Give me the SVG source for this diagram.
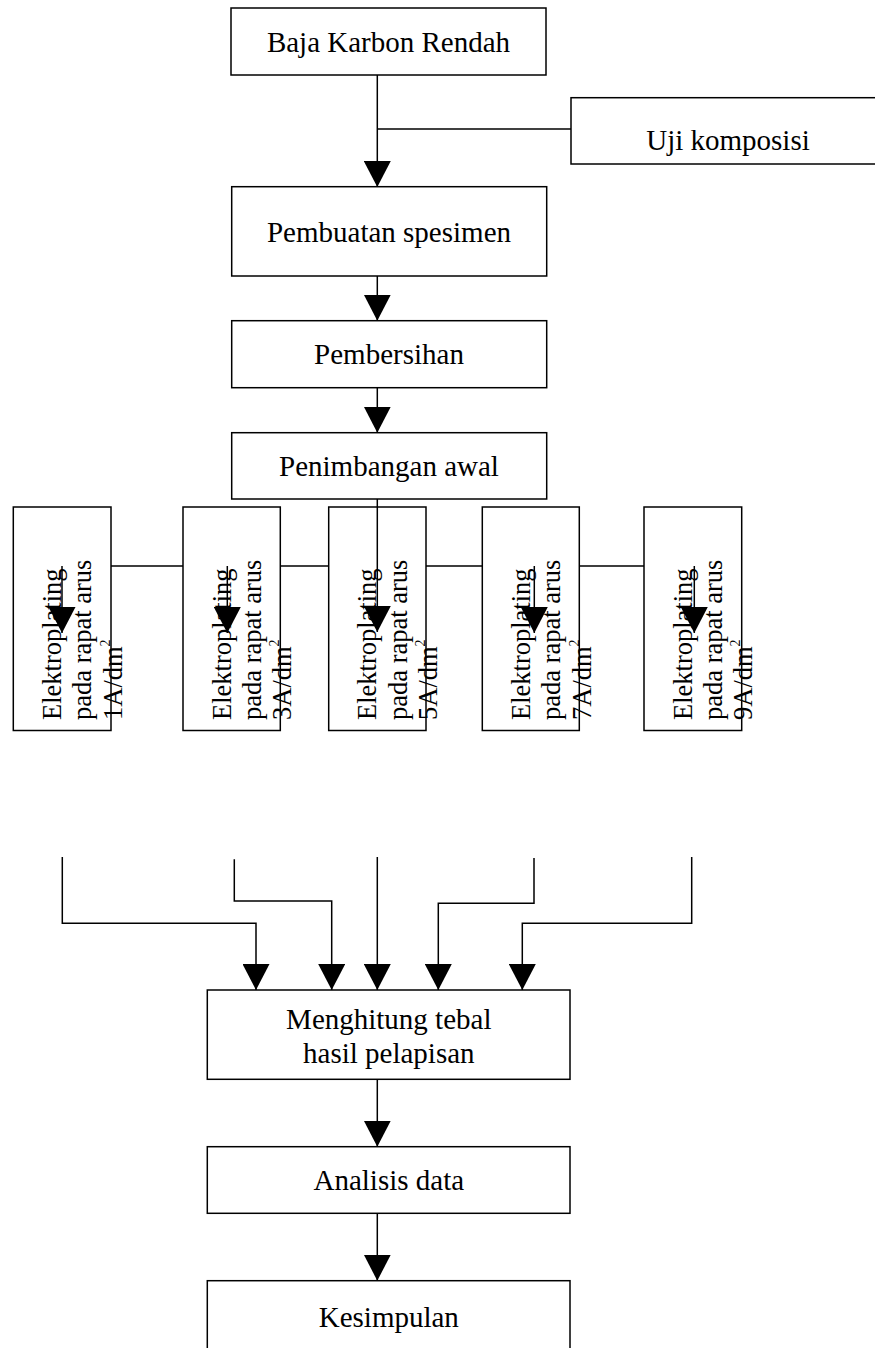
<svg xmlns="http://www.w3.org/2000/svg" width="875" height="1348" viewBox="0 0 875 1348">
<style>
.box{fill:#fff;stroke:#000;stroke-width:1.5}
.t{font-family:"Liberation Serif","Times New Roman",serif;font-size:29px;fill:#000;text-anchor:middle}
.e{font-family:"Liberation Serif","Times New Roman",serif;font-size:26.5px;fill:#000}
.sup{font-size:14px}
.c{fill:none;stroke:#000;stroke-width:1.5}
.a{marker-end:url(#ah)}
</style>
<defs>
<marker id="ah" viewBox="0 0 26 27" refX="26" refY="13.5" markerWidth="26" markerHeight="27" markerUnits="userSpaceOnUse" orient="auto">
<path d="M0,0 L26,13.5 L0,27 Z" fill="#000"/>
</marker>
</defs>
<rect width="875" height="1348" fill="#fff"/>
<g id="baja"><rect class="box" x="231" y="8" width="315" height="67"/><text class="t" x="388.5" y="52">Baja Karbon Rendah</text></g>
<g id="uji"><rect class="box" x="571" y="97.7" width="314" height="66.3"/><text class="t" x="728" y="150">Uji komposisi</text></g>
<g id="pembuatan"><rect class="box" x="231.7" y="186.7" width="315" height="89.3"/><text class="t" x="389" y="241.7">Pembuatan spesimen</text></g>
<g id="pembersihan"><rect class="box" x="231.7" y="320.7" width="315" height="67"/><text class="t" x="389" y="364">Pembersihan</text></g>
<g id="penimbangan"><rect class="box" x="231.7" y="432.7" width="315" height="66.3"/><text class="t" x="389" y="476">Penimbangan awal</text></g>
<g id="ep1"><rect class="box" x="13.3" y="507" width="97.7" height="223.5"/>
<text class="e" transform="translate(60.8,720) rotate(-90)"><tspan x="0" y="0">Elektroplating</tspan><tspan x="0" y="30.4">pada rapat arus</tspan><tspan x="0" y="60.8">1A/dm</tspan><tspan class="sup" dy="-12">2</tspan></text></g>
<g id="ep3"><rect class="box" x="183" y="507" width="97.3" height="223.5"/>
<text class="e" transform="translate(230.5,720) rotate(-90)"><tspan x="0" y="0">Elektroplating</tspan><tspan x="0" y="30.4">pada rapat arus</tspan><tspan x="0" y="60.8">3A/dm</tspan><tspan class="sup" dy="-12">2</tspan></text></g>
<g id="ep5"><rect class="box" x="328.7" y="507" width="97.3" height="223.5"/>
<text class="e" transform="translate(376.2,720) rotate(-90)"><tspan x="0" y="0">Elektroplating</tspan><tspan x="0" y="30.4">pada rapat arus</tspan><tspan x="0" y="60.8">5A/dm</tspan><tspan class="sup" dy="-12">2</tspan></text></g>
<g id="ep7"><rect class="box" x="482.3" y="507" width="97" height="223.5"/>
<text class="e" transform="translate(529.8,720) rotate(-90)"><tspan x="0" y="0">Elektroplating</tspan><tspan x="0" y="30.4">pada rapat arus</tspan><tspan x="0" y="60.8">7A/dm</tspan><tspan class="sup" dy="-12">2</tspan></text></g>
<g id="ep9"><rect class="box" x="644" y="507" width="97.7" height="223.5"/>
<text class="e" transform="translate(691.5,720) rotate(-90)"><tspan x="0" y="0">Elektroplating</tspan><tspan x="0" y="30.4">pada rapat arus</tspan><tspan x="0" y="60.8">9A/dm</tspan><tspan class="sup" dy="-12">2</tspan></text></g>
<g id="menghitung"><rect class="box" x="207.3" y="990" width="362.7" height="89.3"/><text class="t" x="388.8" y="1029.3">Menghitung tebal</text><text class="t" x="388.8" y="1062.7">hasil pelapisan</text></g>
<g id="analisis"><rect class="box" x="207.3" y="1146.7" width="362.7" height="66.6"/><text class="t" x="388.8" y="1190">Analisis data</text></g>
<g id="kesimpulan"><rect class="box" x="207.3" y="1280.7" width="362.7" height="90"/><text class="t" x="388.8" y="1326.7">Kesimpulan</text></g>
<g id="connectors">
<path class="c a" d="M377.3,75 V187"/>
<path class="c" d="M377.3,129 H571"/>
<path class="c a" d="M377.3,276 V320.7"/>
<path class="c a" d="M377.3,387.7 V432.7"/>
<path class="c a" d="M377.3,499 V632"/>
<path class="c" d="M111,566 H183 M280.3,566 H328.7 M426,566 H482.3 M579.3,566 H644"/>
<path class="c a" d="M62,566 V633"/>
<path class="c a" d="M227.3,566 V633"/>
<path class="c a" d="M534.3,566 V633"/>
<path class="c a" d="M694.3,566 V633"/>
<path class="c a" d="M62.3,857 V923.3 H256 V990"/>
<path class="c a" d="M234.3,859.3 V901 H331.7 V990"/>
<path class="c a" d="M377.3,857 V990"/>
<path class="c a" d="M534,858 V903.3 H438.3 V990"/>
<path class="c a" d="M691.7,857 V923.3 H522.3 V990"/>
<path class="c a" d="M377.3,1079.3 V1146.7"/>
<path class="c a" d="M377.3,1213.3 V1280.7"/>
</g>
</svg>
